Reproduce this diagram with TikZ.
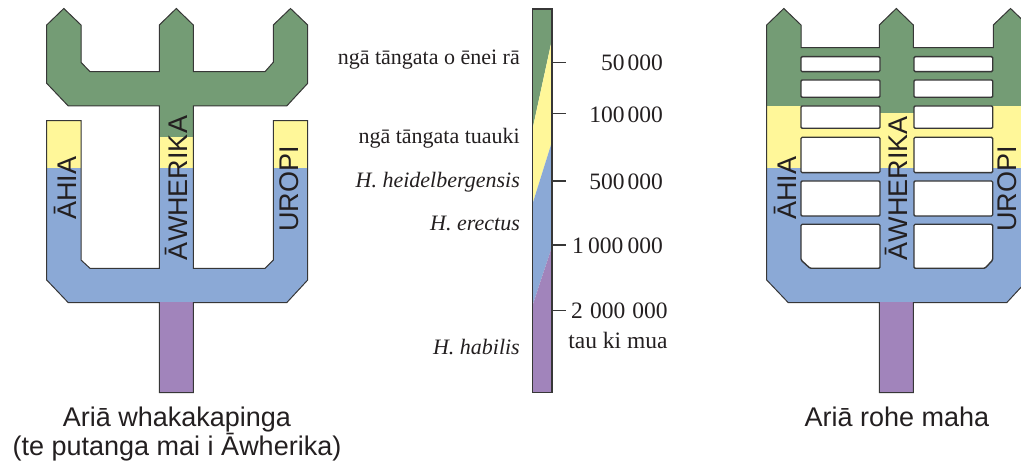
\documentclass[tikz,border=0pt]{standalone}
\usepackage{fontspec}
\setmainfont{Liberation Serif}
\newfontfamily\arialf{Liberation Sans}
\definecolor{cgreen}{RGB}{116,156,117}
\definecolor{cyellow}{RGB}{255,247,153}
\definecolor{cblue}{RGB}{139,169,214}
\definecolor{cpurple}{RGB}{161,132,187}
\definecolor{cline}{RGB}{55,55,55}
\definecolor{ctext}{RGB}{35,31,32}
\newcommand\TreeA[1]{\path[#1] (46.7,25) -- (63.8,8.5) -- (81,25) -- (81,62.3) -- (90,71.7) -- (159.3,71.7) -- (159.3,25) -- (176.3,8.5) -- (193.3,25) -- (193.3,71.7) -- (265,71.7) -- (273.3,62.3) -- (273.3,25) -- (290.5,8.5) -- (307.7,25) -- (307.7,83.3) -- (286.7,106) -- (193.3,106) -- (193.3,268.3) -- (265,268.3) -- (273.3,260) -- (273.3,120.7) -- (307.7,120.7) -- (307.7,280) -- (286.7,302.7) -- (193.3,302.7) -- (193.3,392.7) -- (159.3,392.7) -- (159.3,302.7) -- (68.3,302.7) -- (46.7,280) -- (46.7,120.7) -- (81,120.7) -- (81,260) -- (90,268.3) -- (159.3,268.3) -- (159.3,106) -- (68.3,106) -- (46.7,83.3) -- cycle;}
\newcommand\TreeB[1]{\path[#1] (46.7,25) -- (63.8,8.5) -- (81,25) -- (81,47.7) -- (159.3,47.7) -- (159.3,25) -- (176.3,8.5) -- (193.3,25) -- (193.3,47.7) -- (273.3,47.7) -- (273.3,25) -- (290.5,8.5) -- (307.7,25) -- (307.7,280) -- (286.7,302.7) -- (193.3,302.7) -- (193.3,392.7) -- (159.3,392.7) -- (159.3,302.7) -- (68.3,302.7) -- (46.7,280) -- cycle;}
\tikzset{
  outline/.style={draw=cline, line width=1pt, line join=miter},
  hole/.style={fill=white, draw=cline, line width=1.4pt, rounded corners=1.2pt},
  sanslabel/.style={font=\arialf\fontsize{27}{32}\selectfont, text=ctext, inner sep=0pt},
  seriflabel/.style={font=\fontsize{22}{26}\selectfont, text=ctext, inner sep=0pt},
  numlabel/.style={font=\fontsize{23.5}{28}\selectfont, text=ctext, inner sep=0pt},
  tick/.style={draw=cline, line width=1.3pt},
  barframe/.style={draw=cline, line width=1.5pt}
}
\begin{document}
\begin{tikzpicture}[x=1pt,y=-1pt]
\useasboundingbox (0,0) rectangle (1021,465);
\clip (0,0) rectangle (1021,465);

% ---------- left tree ----------
\begin{scope}
  \TreeA{fill=cblue}
  \begin{scope}\clip (0,0) rectangle (400,167.7); \TreeA{fill=cyellow} \end{scope}
  \begin{scope}\clip (0,0) rectangle (400,106); \TreeA{fill=cgreen} \end{scope}
  \begin{scope}\clip (150,100) rectangle (200,136.7); \TreeA{fill=cgreen} \end{scope}
  \begin{scope}\clip (0,302.7) rectangle (400,400); \TreeA{fill=cpurple} \end{scope}
  \TreeA{outline}
  \node[sanslabel, rotate=90] (ahiaA) at (65,188) {ĀHIA};
  \node[sanslabel, rotate=90] (awhA) at (176.5,188) {ĀWHERIKA};
  \node[sanslabel, rotate=90] (uropiA) at (289.5,189) {UROPI};
\end{scope}
\node[sanslabel, anchor=base] (capA1) at (177,426.7) {Ariā whakakapinga};
\node[sanslabel, anchor=base] (capA2) at (177,455.5) {(te putanga mai i Āwherika)};

% ---------- right tree ----------
\begin{scope}[xshift=720pt]
  \TreeB{fill=cblue}
  \begin{scope}\clip (0,0) rectangle (400,167.7); \TreeB{fill=cyellow} \end{scope}
  \begin{scope}\clip (0,0) rectangle (400,106); \TreeB{fill=cgreen} \end{scope}
  \begin{scope}\clip (150,100) rectangle (200,112.7); \TreeB{fill=cgreen} \end{scope}
  \begin{scope}\clip (0,302.7) rectangle (400,400); \TreeB{fill=cpurple} \end{scope}
  \TreeB{outline}
  % holes
  \foreach \ya/\yb in {56.7/71.7, 80/97.3, 106/128.3, 137.3/172.7, 181/216}{
    \path[hole] (81,\ya) rectangle (160,\yb);
    \path[hole] (194,\ya) rectangle (272.7,\yb);
  }
  \path[hole] (81,224.3) -- (160,224.3) -- (160,268.3) -- (90,268.3) -- (81,260) -- cycle;
  \path[hole] (194,224.3) -- (272.7,224.3) -- (272.7,260) -- (265,268.3) -- (194,268.3) -- cycle;
  \node[sanslabel, rotate=90] (ahiaB) at (65,188.3) {ĀHIA};
  \node[sanslabel, rotate=90] (awhB) at (176.5,188.3) {ĀWHERIKA};
  \node[sanslabel, rotate=90] (uropiB) at (287.5,189.2) {UROPI};
\end{scope}
\node[sanslabel, anchor=base] (capB) at (897,426.7) {Ariā rohe maha};

% ---------- time scale ----------
\coordinate (barTL) at (532.7,9);
\coordinate (barBR) at (552,392.3);
\fill[cgreen] (532.7,9) -- (552,9) -- (552,39.3) -- (532.7,128.3) -- cycle;
\fill[cyellow] (552,39.3) -- (552,141.7) -- (532.7,203.3) -- (532.7,128.3) -- cycle;
\fill[cblue] (552,141.7) -- (552,246.7) -- (532.7,305) -- (532.7,203.3) -- cycle;
\fill[cpurple] (552,246.7) -- (552,392.3) -- (532.7,392.3) -- (532.7,305) -- cycle;
\draw[barframe] (barTL) rectangle (barBR);

\foreach \n/\y in {t1/62.3, t2/113.3, t3/181, t4/245, t5/310.7}{
  \coordinate (\n a) at (552,\y);
  \coordinate (\n b) at (566,\y);
  \draw[tick] (\n a) -- (\n b);
}

\node[seriflabel, anchor=base east] (l1) at (520,65) {ngā tāngata o ēnei rā};
\node[seriflabel, anchor=base east] (l2) at (520,143.3) {ngā tāngata tuauki};
\node[seriflabel, anchor=base east] (l3) at (520,187.3) {\itshape H. heidelbergensis};
\node[seriflabel, anchor=base east] (l4) at (520,231) {\itshape H. erectus};
\node[seriflabel, anchor=base east] (l5) at (520,354.3) {\itshape H. habilis};

\node[numlabel, anchor=base east] (r1) at (663,70.7) {50\hspace{0.12em}000};
\node[numlabel, anchor=base east] (r2) at (663,122.3) {100\hspace{0.12em}000};
\node[numlabel, anchor=base east] (r3) at (663,189.3) {500\hspace{0.12em}000};
\node[numlabel, anchor=base east] (r4) at (663,253.3) {1\hspace{0.18em}000\hspace{0.18em}000};
\node[numlabel, anchor=base west] (r5) at (571,319) {2\hspace{0.3em}000\hspace{0.3em}000};
\node[numlabel, anchor=base] (r6) at (618,348.3) {tau ki mua};
\end{tikzpicture}
\end{document}
